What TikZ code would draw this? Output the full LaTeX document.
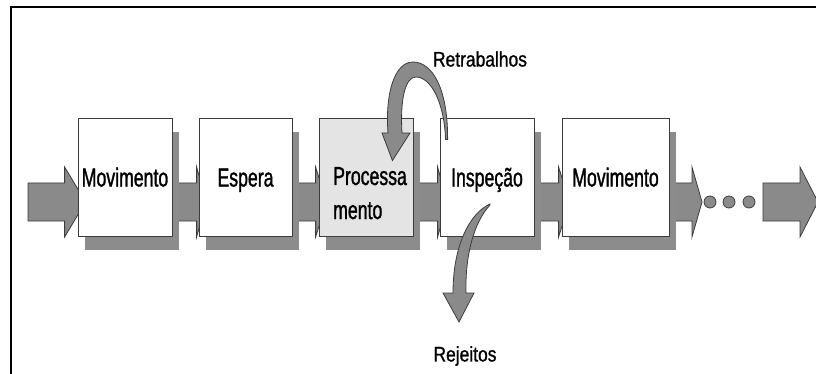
\documentclass[tikz,border=0pt]{standalone}
\usepackage{fontspec}
\usepackage{tikz}
\usetikzlibrary{calc,shadows,backgrounds}
\newfontfamily\boxfont[FakeStretch=0.68,FakeBold=1.2]{Liberation Sans}
\newfontfamily\labelfont[FakeStretch=0.83,FakeBold=1]{Liberation Sans}
\definecolor{flowgray}{RGB}{138,138,138}
\definecolor{edgegray}{RGB}{60,60,60}
\definecolor{shadegray}{RGB}{140,140,140}
\definecolor{procgray}{RGB}{228,228,228}

% block arrow from #1 to #2 (both on the box centre line), head length #3
\newcommand{\flowarrow}[3]{%
  \draw[flow] ($(#1)+(0,6)$) -- ($(#2)+(8-#3,6)$) -- ($(#2)+(8-#3,-10)$)
    -- ($(#2)+(8,25)$) -- ($(#2)+(8-#3,60)$) -- ($(#2)+(8-#3,44)$)
    -- ($(#1)+(0,44)$) -- cycle;}

\begin{document}
\begin{tikzpicture}[x=1pt, y=-1pt,
  stage/.style={draw=edgegray, line width=0.8pt, fill=white, inner sep=0pt,
    minimum height=118pt, text height=19pt, text depth=0pt,
    font=\boxfont\fontsize{26}{34}\selectfont,
    general shadow={fill=shadegray, shadow xshift=7pt, shadow yshift=-14pt}},
  stagetext/.style={inner sep=0pt, font=\boxfont\fontsize{26}{34}\selectfont},
  flow/.style={fill=flowgray, draw=edgegray, line width=0.8pt, line join=miter},
  dot/.style={circle, fill=flowgray, draw=edgegray, line width=0.8pt,
    minimum size=12pt, inner sep=0pt},
  tag/.style={inner sep=0pt, font=\labelfont\fontsize{21}{25}\selectfont}]
  \useasboundingbox (0,0) rectangle (816,374);
  % Frame
  \draw[line width=1.6pt] (11,374) -- (11,7) -- (816,7);
  % Stages
  \node[stage, minimum width=94pt] (mov1) at (125,177) {Movimento};
  \node[stage, minimum width=93pt] (esp) at (245.5,177) {Espera};
  \node[stage, minimum width=94pt, fill=procgray] (proc) at (366,177) {};
  \node[stagetext, anchor=base west] (proc1) at (333,185) {Processa};
  \node[stagetext, anchor=base west] (proc2) at (333,219) {mento};
  \node[stage, minimum width=94pt] (insp) at (487,177) {Inspeção};
  \node[stage, minimum width=107pt] (mov2) at (615.5,177) {Movimento};
  % Free ends of the flow
  \coordinate (in) at (28,177);
  \coordinate (gap) at (694,177);
  \coordinate (out0) at (763,177);
  \coordinate (out) at (810,177);
  % Flow arrows behind the stages
  \begin{scope}[on background layer]
    \flowarrow{in}{mov1.west}{21}
    \flowarrow{mov1.east}{esp.west}{10}
    \flowarrow{esp.east}{proc.west}{11}
    \flowarrow{proc.east}{insp.west}{10}
    \flowarrow{insp.east}{mov2.west}{11}
    \flowarrow{mov2.east}{gap}{10}
    \flowarrow{out0}{out}{18}
  \end{scope}
  % Dots
  \foreach \i/\x in {1/710, 2/729, 3/749}
    \node[dot] (dot\i) at (\x,202) {};
  % Rework: from inspection back to processing
  \coordinate (rtail) at ($(insp.north west)+(7,20)$);
  \coordinate (rtip) at ($(proc.north east)+(-21,43)$);
  \draw[flow] ($(rtail)+(1,2)$) .. controls (448,88) and (432,62) .. (413,62)
    .. controls (395,62) and (385,92) .. (388,133) -- (382,133) -- (rtip)
    -- (410,133) -- (402,133) .. controls (400,100) and (405,77) .. (416,77)
    .. controls (430,77) and (444,100) .. ($(rtail)+(-1,2)$) -- cycle;
  % Rejects: out of inspection
  \coordinate (jtail) at ($(insp.center)+(3,27)$);
  \coordinate (jtip) at (459,322);
  \draw[flow] (jtail) .. controls (470,213) and (453,245) .. (453,293)
    -- (443,293) -- (jtip) -- (474,293) -- (466,293)
    .. controls (465,255) and (474,222) .. ($(jtail)+(0,1)$) -- cycle;
  % Labels
  \node[tag] (retr) at (480,59) {Retrabalhos};
  \node[tag] (rej) at (465,356) {Rejeitos};
\end{tikzpicture}
\end{document}
